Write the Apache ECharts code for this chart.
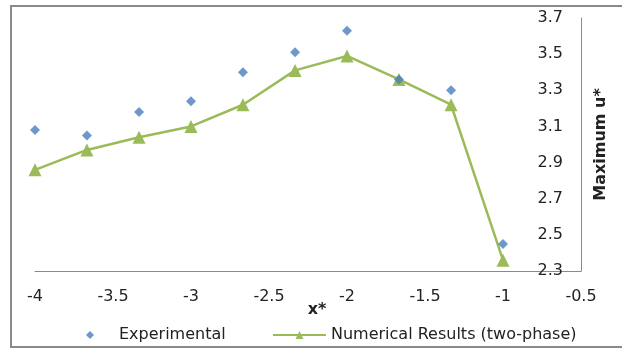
<!DOCTYPE html>
<html>
<head>
<meta charset="utf-8">
<script src="https://cdn.jsdelivr.net/npm/echarts@6/dist/echarts.min.js"></script>
<style>
html,body{margin:0;padding:0;background:#fff;}
#chart{width:622px;height:349px;}
</style>
</head>
<body>
<div id="chart"></div>
<script>
const xValues = [-4, -3.667, -3.333, -3, -2.667, -2.333, -2, -1.667, -1.333, -1];
const experimental = [3.08, 3.05, 3.18, 3.24, 3.40, 3.51, 3.63, 3.36, 3.30, 2.45];
const numerical = [2.86, 2.97, 3.04, 3.10, 3.22, 3.41, 3.49, 3.36, 3.22, 2.36];
const seriesNames = ['Experimental', 'Numerical Results (two-phase)'];
const xAxisTitle = 'x*';
const yAxisTitle = 'Maximum u*';

const font = 'DejaVu Sans';
const legendText = {fontFamily: font, fontSize: 16, color: '#222'};
const chart = echarts.init(document.getElementById('chart'), null, {renderer: 'canvas'});
chart.setOption({
  animation: false,
  backgroundColor: '#ffffff',
  textStyle: {fontFamily: font},
  graphic: [{
    type: 'polyline',
    shape: {points: [[640, 6], [11, 6], [11, 347], [640, 347]]},
    style: {fill: 'none', stroke: '#8a8a8a', lineWidth: 2},
    silent: true
  }],
  grid: {left: 35, right: 41, top: 18, bottom: 78},
  legend: [{
    data: [seriesNames[0]],
    left: 81,
    top: 322,
    itemWidth: 8,
    itemHeight: 8,
    textStyle: Object.assign({padding: [0, 0, 0, 20]}, legendText)
  }, {
    data: [seriesNames[1]],
    left: 267,
    top: 322,
    itemWidth: 53,
    itemHeight: 10,
    textStyle: legendText
  }],
  xAxis: {
    type: 'value',
    min: -4, max: -0.5, interval: 0.5,
    name: xAxisTitle,
    nameLocation: 'middle',
    nameGap: 31,
    nameMoveOverlap: false,
    nameTextStyle: {fontFamily: font, fontSize: 16, fontWeight: 'bold', color: '#222', padding: [0, 0, 0, 18]},
    axisLine: {show: true, onZero: false, lineStyle: {color: '#8a8a8a', width: 1}},
    axisTick: {show: false},
    splitLine: {show: false},
    axisLabel: {fontFamily: font, fontSize: 16, color: '#222', margin: 18}
  },
  yAxis: {
    type: 'value',
    position: 'right',
    min: 2.3, max: 3.7, interval: 0.2,
    name: yAxisTitle,
    nameLocation: 'middle',
    nameRotate: 90,
    nameGap: 12,
    nameMoveOverlap: false,
    nameTextStyle: {fontFamily: font, fontSize: 16, fontWeight: 'bold', color: '#222'},
    axisLine: {show: true, lineStyle: {color: '#8a8a8a', width: 1}},
    axisTick: {show: false},
    splitLine: {show: false},
    axisLabel: {inside: true, fontFamily: font, fontSize: 16, color: '#222', margin: 18,
      formatter: v => v.toFixed(1)}
  },
  series: [
    {
      name: seriesNames[0],
      type: 'scatter',
      symbol: 'diamond',
      symbolSize: 10,
      itemStyle: {color: '#4a7ebb'},
      data: xValues.map((x, i) => [x, experimental[i]]),
      z: 3
    },
    {
      name: seriesNames[1],
      type: 'line',
      symbol: 'triangle',
      symbolSize: 13,
      showSymbol: true,
      lineStyle: {color: '#9bbb59', width: 2.5},
      itemStyle: {color: '#9bbb59'},
      data: xValues.map((x, i) => [x, numerical[i]]),
      z: 2
    }
  ]
});
</script>
</body>
</html>
